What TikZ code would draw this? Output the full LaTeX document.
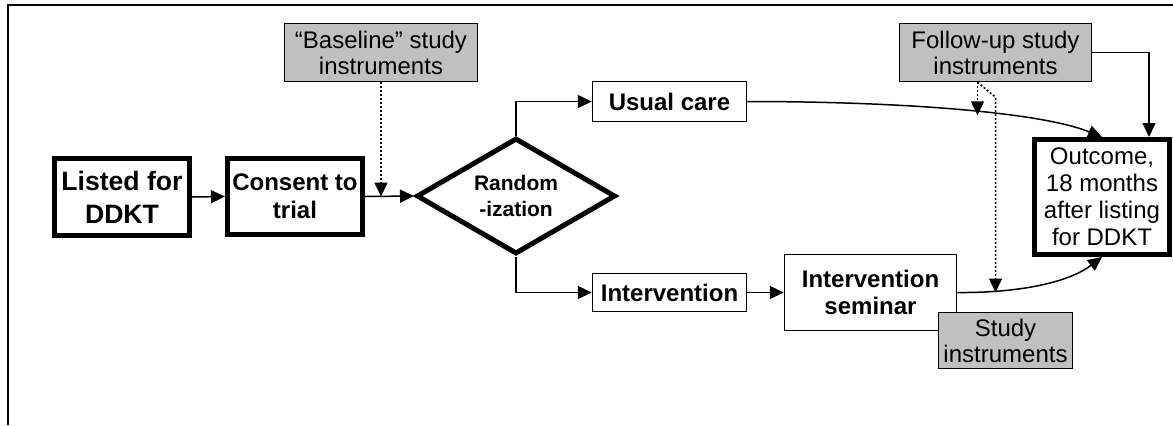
\documentclass[tikz,border=0pt]{standalone}
\usepackage{fontspec}
\setmainfont{Liberation Sans}
\usetikzlibrary{arrows.meta, shapes.geometric}
\definecolor{instrgray}{RGB}{192,192,192}

\begin{document}
\begin{tikzpicture}[x=0.5pt, y=-0.5pt,
  stage/.style={draw, line width=2.5pt, align=center, inner sep=0pt,
                minimum width=67.5pt, font=\fontsize{12}{14}\selectfont\bfseries},
  plain/.style={draw, line width=0.75pt, align=center, inner sep=0pt,
                font=\fontsize{12}{13.5}\selectfont\bfseries},
  instr/.style={draw, line width=0.75pt, fill=instrgray, align=center, inner sep=0pt,
                font=\fontsize{12}{13}\selectfont},
  decide/.style={draw, diamond, line width=2.5pt, align=center, inner sep=0pt,
                 aspect=1.72, minimum width=99.5pt, minimum height=58pt,
                 font=\fontsize{10.5}{13}\selectfont\bfseries},
  arr/.style={-{Triangle[length=7pt, width=6.5pt]}, line width=0.75pt},
  dotarr/.style={-{Triangle[length=7pt, width=6.5pt]}, line width=0.75pt,
                 dash pattern=on 1pt off 1pt}
]
\useasboundingbox (0,0) rectangle (1173,425);
\draw[line width=1pt] (8,425) -- (8,4.5) -- (1173,4.5);

% main stages
\node[stage, minimum height=38.5pt, font=\fontsize{13.3}{16.5}\selectfont\bfseries] (ld) at (122,197) {Listed for\\DDKT};
\node[stage, minimum height=38pt] (cs) at (295,196.5) {Consent to\\trial};
\node[decide] (rd) at (516,196) {Random\\-ization};
\node[plain, minimum width=77pt, minimum height=20pt] (uc) at (669.5,101.5) {Usual care};
\node[plain, minimum width=77pt, minimum height=19pt] (iv) at (669.5,292.5) {Intervention};
\node[plain, minimum width=86pt, minimum height=38pt] (sem) at (870.5,292.5) {Intervention\\seminar};
\node[stage, minimum height=57.5pt, font=\fontsize{12}{13.5}\selectfont] (oc) at (1102,197)
     {Outcome,\\18 months\\after listing\\for DDKT};

% study instruments
\node[instr, minimum width=96.5pt, minimum height=29pt] (bl) at (381,52.5) {``Baseline'' study\\instruments};
\node[instr, minimum width=96pt, minimum height=29pt] (fu) at (995.5,52.5) {Follow-up study\\instruments};
\node[instr, minimum width=67pt, minimum height=28pt] (si) at (1005.5,340.5) {Study\\instruments};

% flow
\draw[arr] (ld.east) -- (cs.west);
\draw[arr] (cs.east) -- (rd.west);
\draw[arr] (rd.north) |- (uc.west);
\draw[arr] (rd.south) |- (iv.west);
\draw[arr] (iv.east) -- (sem.west);
\draw[arr] (uc.east) .. controls (900,101.5) and (1040,112) .. (oc.north);
\draw[arr] (sem.east) .. controls (1010,293) and (1065,285) .. (oc.south);
\draw[arr] (fu.east) -| ([xshift=23.5pt]oc.north);

% measurement points
\draw[dotarr] (bl.south) -- (bl.south |- cs.east);
\draw[dotarr] ([xshift=-9pt]fu.south) -- ++(0,33);
\draw[dotarr] ([xshift=-9pt]fu.south) -- ++(18,15) -- (fu.south |- sem.east);
\end{tikzpicture}
\end{document}
